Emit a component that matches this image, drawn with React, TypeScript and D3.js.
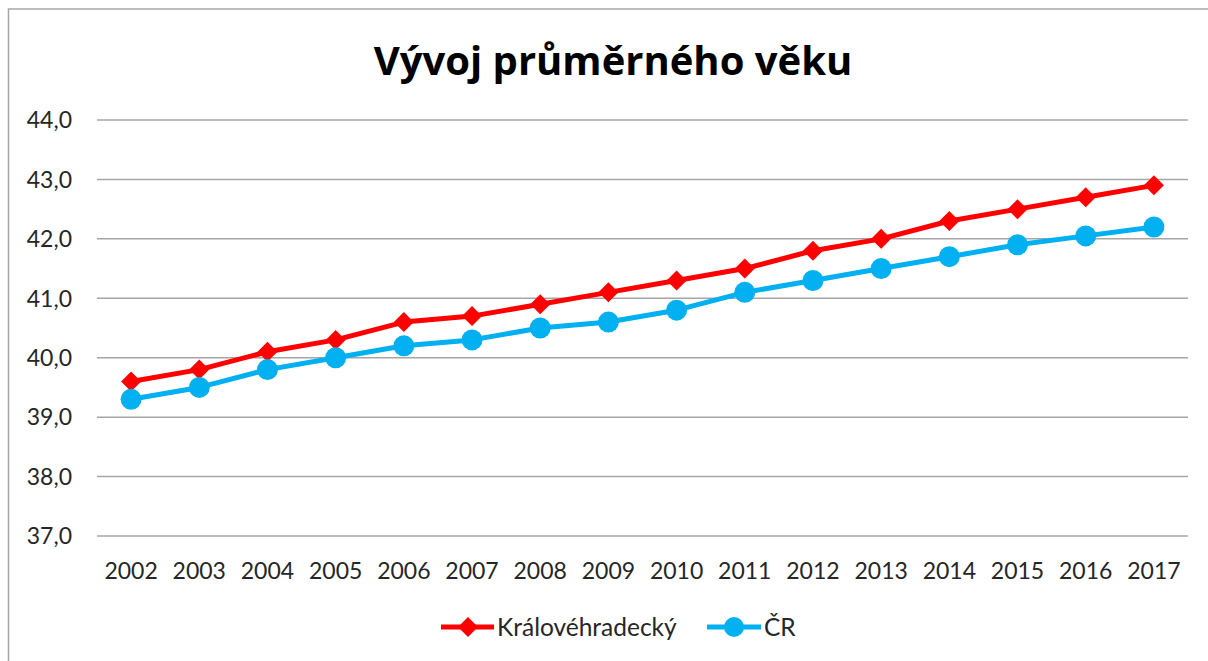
import React from "react";
import * as d3 from "d3";

const years = ["2002","2003","2004","2005","2006","2007","2008","2009","2010","2011","2012","2013","2014","2015","2016","2017"];
const kraj = [39.6,39.8,40.1,40.3,40.6,40.7,40.9,41.1,41.3,41.5,41.8,42.0,42.3,42.5,42.7,42.9];
const cr = [39.3,39.5,39.8,40.0,40.2,40.3,40.5,40.6,40.8,41.1,41.3,41.5,41.7,41.9,42.05,42.2];
const yTicks = [37,38,39,40,41,42,43,44];
const seriesNames = ["Královéhradecký","ČR"];
const title = "Vývoj průměrného věku";

const W = 1208, H = 661;
const FONT = "Lato, 'Open Sans', sans-serif";

export default function App() {
  const x = d3.scaleBand().domain(years).range([97, 1188]);
  const y = d3.scaleLinear().domain([37, 44]).range([536, 120]);
  const line = d3.line<number>().x((_, i) => (x(years[i]) as number) + x.bandwidth() / 2).y(d => y(d));
  const diamond = (cx: number, cy: number, r: number) => `M${cx},${cy - r}L${cx + r},${cy}L${cx},${cy + r}L${cx - r},${cy}Z`;
  const red = "#FF0000", blue = "#00B0F0";
  return (
    <svg width={W} height={H} style={{ position: "absolute", left: 0, top: 0, background: "#fff" }} fontFamily={FONT}>
      <rect x={8.5} y={9} width={1300} height={700} fill="#fff" stroke="#a6a6a6" strokeWidth={1.5} />
      <text x={613} y={75} textAnchor="middle" fontSize={40} fontWeight="bold" fill="#000" style={{ fontFamily: "'Open Sans', Lato, sans-serif" }}>{title}</text>
      {yTicks.map(t => (
        <g key={t}>
          <line x1={97} x2={1188} y1={y(t)} y2={y(t)} stroke="#a6a6a6" strokeWidth={1.5} />
          <text x={72} y={y(t)} dy="0.36em" textAnchor="end" fontSize={23} fill="#262626">{t.toFixed(1).replace(".", ",")}</text>
        </g>
      ))}
      {years.map(yr => (
        <text key={yr} x={(x(yr) as number) + x.bandwidth() / 2} y={571} dy="0.36em" textAnchor="middle" fontSize={23} fill="#262626">{yr}</text>
      ))}
      <path d={line(cr) || ""} fill="none" stroke={blue} strokeWidth={5} strokeLinejoin="round" />
      <path d={line(kraj) || ""} fill="none" stroke={red} strokeWidth={5} strokeLinejoin="round" />
      {kraj.map((v, i) => (
        <path key={"k" + i} d={diamond((x(years[i]) as number) + x.bandwidth() / 2, y(v), 10)} fill={red} />
      ))}
      {cr.map((v, i) => (
        <circle key={"c" + i} cx={(x(years[i]) as number) + x.bandwidth() / 2} cy={y(v)} r={10.5} fill={blue} />
      ))}
      <g>
        <line x1={441} x2={494} y1={627} y2={627} stroke={red} strokeWidth={5} />
        <path d={diamond(468, 627, 10)} fill={red} />
        <text x={497} y={627} dy="0.36em" fontSize={24.5} fill="#262626">{seriesNames[0]}</text>
        <line x1={707} x2={761} y1={627} y2={627} stroke={blue} strokeWidth={5} />
        <circle cx={734} cy={627} r={10} fill={blue} />
        <text x={764} y={627} dy="0.36em" fontSize={24.5} fill="#262626">{seriesNames[1]}</text>
      </g>
    </svg>
  );
}
